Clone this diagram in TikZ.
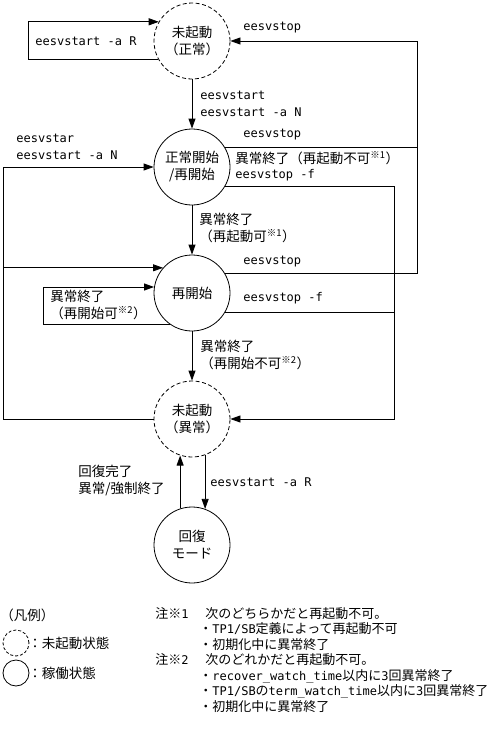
\documentclass[tikz,border=0pt]{standalone}
\usepackage{fontspec}
\setmainfont{Noto Sans CJK JP}
\newfontfamily\cmdfont{DejaVu Sans Mono}
\usetikzlibrary{arrows.meta}
\newcommand{\cmd}[1]{{\fontsize{12}{17}\selectfont\cmdfont #1}}
\newcommand{\nt}[1]{\textsuperscript{※#1}}

\begin{document}
\begin{tikzpicture}[x=1pt, y=-1pt, line width=0.8pt,
  every node/.style={font=\fontsize{13.5}{17}\selectfont, inner sep=0pt},
  state/.style={circle, draw, minimum size=76pt, align=center},
  idle/.style={state, dash pattern=on 4pt off 2.5pt},
  arr/.style={-{Triangle[length=10pt, width=7pt]}},
  txt/.style={anchor=west, align=left}]

  \useasboundingbox (0,0) rectangle (499,731);

  % states, top to bottom
  \node[idle]  (stopN)    at (192,41)  {未起動\\（正常）};
  \node[state] (runN)     at (192,167) {正常開始\\/再開始};
  \node[state] (restartN) at (192,293) {再開始};
  \node[idle]  (errN)     at (192,419) {未起動\\（異常）};
  \node[state] (recN)     at (192,545) {回復\\モード};

  % corners of the long return lines
  \coordinate (stopR)  at (417,41);
  \coordinate (forceR) at (394,419);
  \coordinate (backL)  at (3,419);

  % transitions
  \draw[arr] (stopN.208) -- ++(-130,0) |- (stopN.150);
  \draw[arr] (stopN) -- (runN);
  \draw[arr] (runN) -- (restartN);
  \draw[arr] (restartN) -- (errN);
  \draw[arr] (runN.30) -| (stopR) -- (stopN.east);
  \draw (restartN.30) -| (stopR);
  \draw[arr] (runN.330) -| (forceR) -- (errN.east);
  \draw (restartN.330) -| (forceR);
  \draw[arr] (errN.west) -- (backL) |- (runN.west);
  \draw[arr] (restartN.139 -| backL) -- (restartN.139);
  \draw[arr] (restartN.235) -- ++(-127,0) |- (restartN.171);
  \draw[arr] (recN.108) -- (errN.252);
  \draw[arr] (errN.290) -- (recN.70);

  % labels
  \node[txt] (lbLoopR)  at (35,41)   {\cmd{eesvstart -a R}};
  \node[txt] (lbStopA)  at (243,28)  {\cmd{eesvstop}};
  \node[txt] (lbStart)  at (200,104) {\cmd{eesvstart}\\\cmd{eesvstart -a N}};
  \node[txt] (lbStopB)  at (243,135) {\cmd{eesvstop}};
  \node[txt] (lbErrA)   at (235,158) {異常終了（再起動不可\nt{1}）};
  \node[txt] (lbForceA) at (235,175) {\cmd{eesvstop -f}};
  \node[txt] (lbBack)   at (16,147)  {\cmd{eesvstar}\\\cmd{eesvstart -a N}};
  \node[txt] (lbErrB)   at (199,228) {異常終了\\（再起動可\nt{1}）};
  \node[txt] (lbStopC)  at (243,262) {\cmd{eesvstop}};
  \node[txt] (lbLoopE)  at (50,305)  {異常終了\\（再開始可\nt{2}）};
  \node[txt] (lbForceB) at (243,298) {\cmd{eesvstop -f}};
  \node[txt] (lbErrC)   at (200,355) {異常終了\\（再開始不可\nt{2}）};
  \node[txt] (lbRecov)  at (78,481)  {回復完了\\異常/強制終了};
  \node[txt] (lbLoopR2) at (210,482) {\cmd{eesvstart -a R}};

  % legend
  \node[txt] (lgHead) at (0,615) {（凡例）};
  \node[idle, minimum size=26pt, dash pattern=on 3pt off 2pt] (lgIdle) at (16,643) {};
  \node[txt] (lgIdleT) at (28,643) {：未起動状態};
  \node[state, minimum size=26pt] (lgRun) at (16,673) {};
  \node[txt] (lgRunT) at (28,673) {：稼働状態};

  % notes
  \node[txt, font=\fontsize{13}{15.5}\selectfont] (notes) at (155,660) {%
    \makebox[50pt][l]{注※\cmd{1}}次のどちらかだと再起動不可。\\
    \hspace{44pt}・\cmd{TP1/SB}定義によって再起動不可\\
    \hspace{44pt}・初期化中に異常終了\\
    \makebox[50pt][l]{注※\cmd{2}}次のどれかだと再起動不可。\\
    \hspace{44pt}・\cmd{recover\_watch\_time}以内に\cmd{3}回異常終了\\
    \hspace{44pt}・\cmd{TP1/SB}の\cmd{term\_watch\_time}以内に\cmd{3}回異常終了\\
    \hspace{44pt}・初期化中に異常終了};
\end{tikzpicture}
\end{document}
